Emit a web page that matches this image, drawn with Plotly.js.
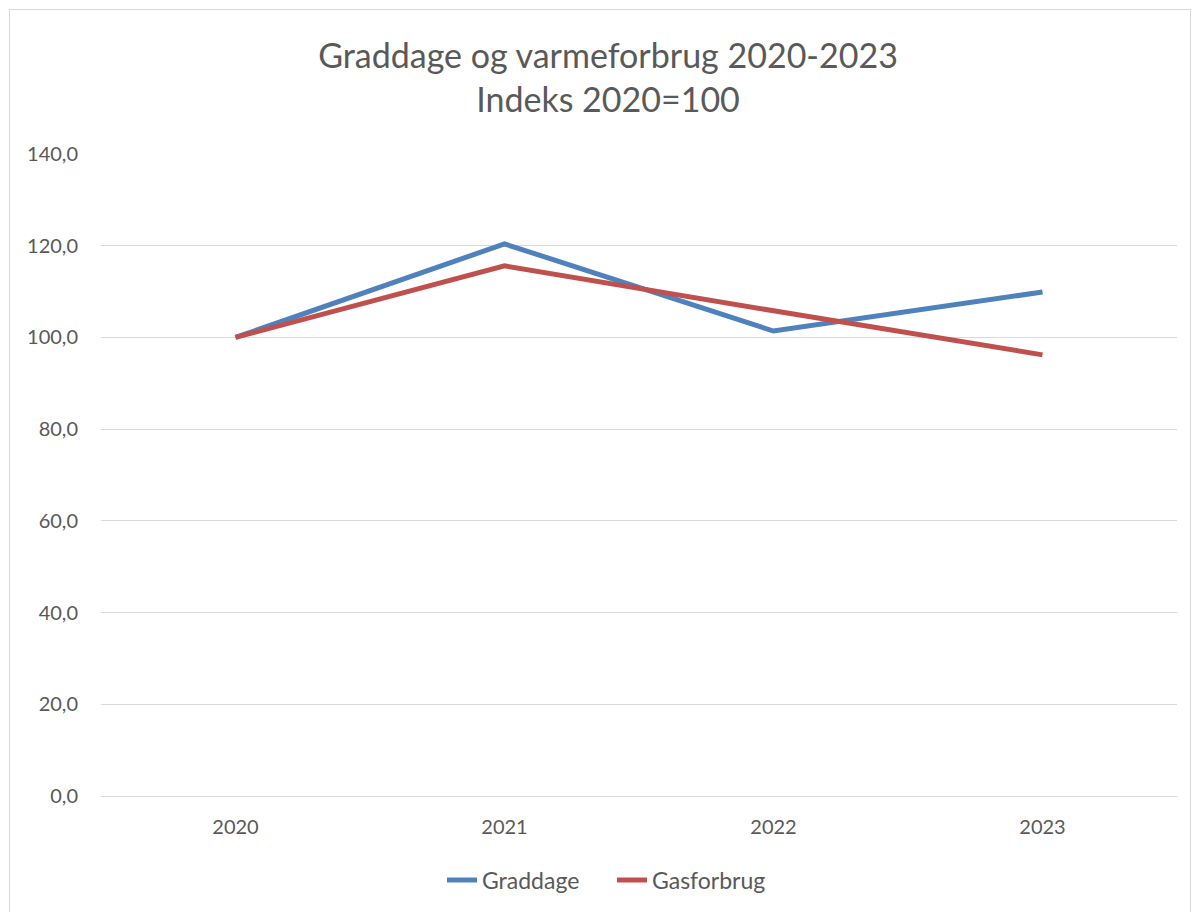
<!DOCTYPE html>
<html>
<head>
<meta charset="utf-8">
<script src="https://cdn.plot.ly/plotly-3.0.1.min.js"></script>
<style>
html,body{margin:0;padding:0;background:#fff;}
#wrap{position:relative;width:1195px;height:912px;overflow:hidden;}
#chart{position:absolute;left:0;top:0;width:1195px;height:912px;}
#frame{position:absolute;left:9px;top:9px;width:1180px;height:930px;border:1px solid #D9D9D9;pointer-events:none;}
</style>
</head>
<body>
<div id="wrap"><div id="chart"></div><div id="frame"></div></div>
<script>
const years = ["2020", "2021", "2022", "2023"];
const graddage = [100.0, 120.4, 101.4, 109.9];
const gasforbrug = [100.0, 115.6, 105.8, 96.2];
const yTicks = [0, 20, 40, 60, 80, 100, 120, 140];

const textColor = "#595959";
const font = "Lato, 'Open Sans', sans-serif";

const traces = [
  {x: years, y: graddage, name: "Graddage", type: "scatter", mode: "lines",
   line: {color: "#4F81BD", width: 5}},
  {x: years, y: gasforbrug, name: "Gasforbrug", type: "scatter", mode: "lines",
   line: {color: "#C0504D", width: 5}}
];

const layout = {
  width: 1195, height: 912,
  paper_bgcolor: "rgba(0,0,0,0)", plot_bgcolor: "#fff",
  margin: {l: 101, r: 18, t: 154, b: 116},
  separators: ",.",
  font: {family: font, color: textColor, size: 20},
  title: {text: "Graddage og varmeforbrug 2020-2023<br>Indeks 2020=100",
          font: {family: font, size: 34, color: textColor},
          x: 608/1195, xanchor: "center", y: 1 - 68/912, yanchor: "middle", yref: "container"},
  xaxis: {type: "category", range: [-0.5, 3.5], showgrid: false, zeroline: false,
          showline: false, ticks: "outside", ticklen: 13, tickcolor: "rgba(0,0,0,0)",
          tickfont: {size: 20, color: textColor, family: font}},
  yaxis: {range: [0, 140], tickvals: yTicks, tickformat: ".1f", showgrid: true,
          gridcolor: "#D9D9D9", gridwidth: 1, zeroline: true, zerolinecolor: "#D9D9D9",
          zerolinewidth: 1, showline: false, ticks: "outside", ticklen: 18,
          tickcolor: "rgba(0,0,0,0)", tickfont: {size: 20, color: textColor, family: font}},
  showlegend: true,
  legend: {orientation: "h", x: 612/1195, xanchor: "center", xref: "container",
           y: 1 - 880/912, yanchor: "middle", yref: "container",
           font: {size: 23, color: textColor, family: font},
           entrywidth: 125, tracegroupgap: 0}
};

Plotly.newPlot("chart", traces, layout, {displayModeBar: false, staticPlot: true});
</script>
</body>
</html>
